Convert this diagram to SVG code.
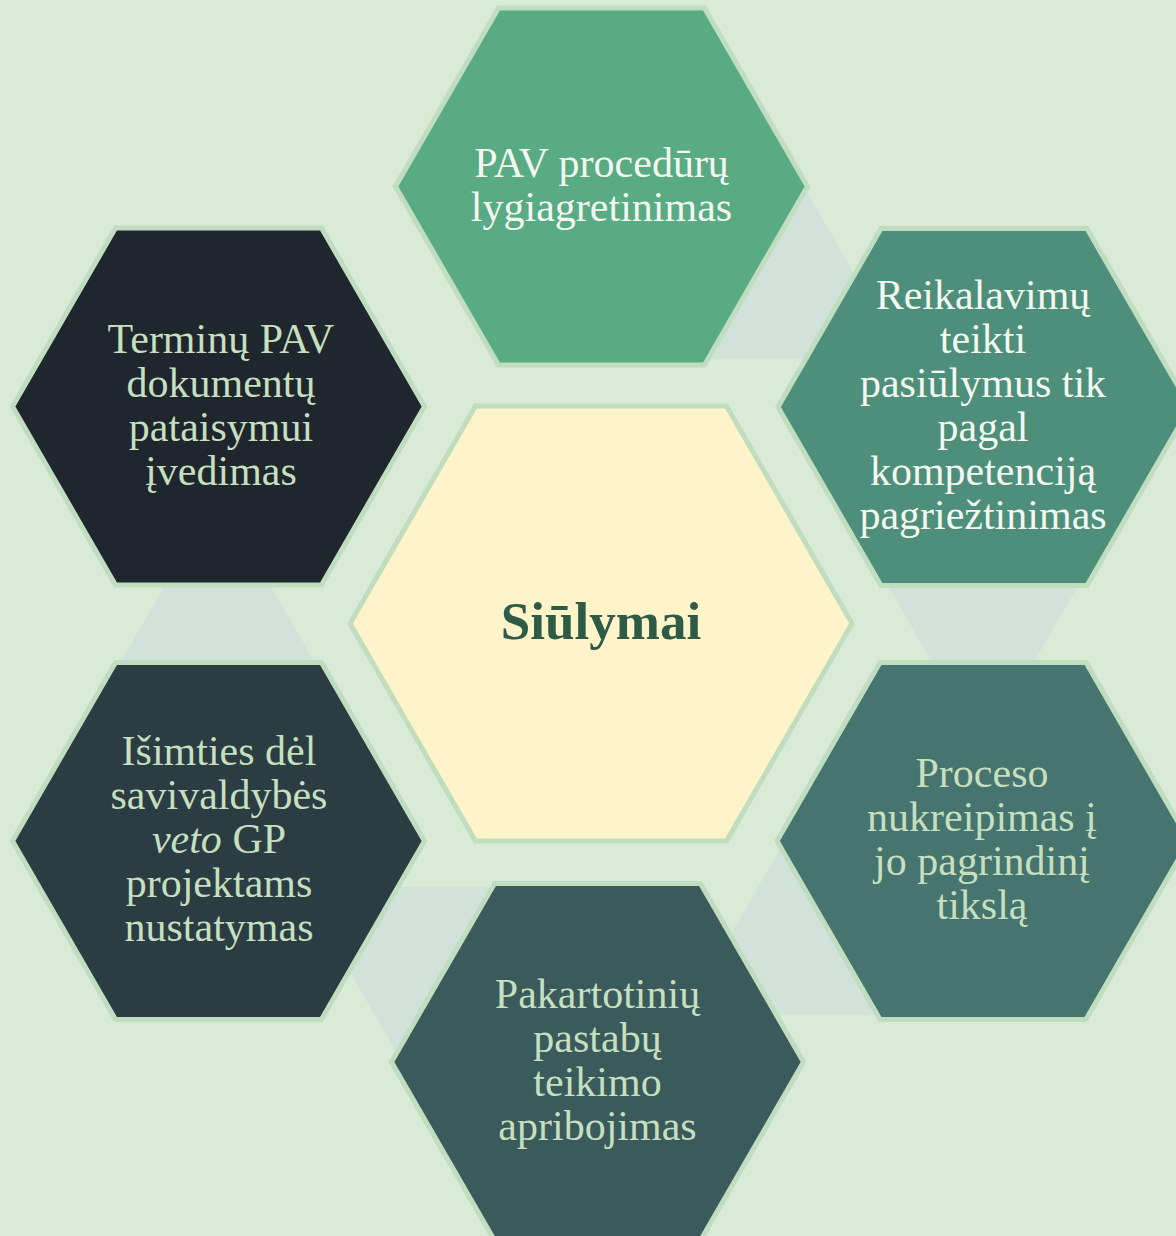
<svg xmlns="http://www.w3.org/2000/svg" width="1176" height="1236" viewBox="0 0 1176 1236">
  <defs>
    <style>
      .hex { stroke: #C0DDBF; stroke-width: 5; stroke-linejoin: miter; }
      .tri { fill: #D1E2DA; stroke: none; }
      .lbl { font-family: "Liberation Serif", "Times New Roman", serif; font-size: 42px; text-anchor: middle; }
      .light { fill: #F4F7EF; }
      .mint { fill: #C5DFBF; }
      .title { font-family: "Liberation Serif", "Times New Roman", serif; font-size: 53px; font-weight: bold; text-anchor: middle; fill: #2D5B45; }
    </style>
    <polygon id="hexOuter" points="-206,0 -103,-178.4 103,-178.4 206,0 103,178.4 -103,178.4"/>
  </defs>
  <rect x="0" y="0" width="1176" height="1236" fill="#D9EAD6"/>

  <g id="connectors">
    <polygon class="tri" points="806,190 903,359 708,359"/>
    <polygon class="tri" points="887,584 1079,584 983,751"/>
    <polygon class="tri" points="782,846 880,1015 684,1015"/>
    <polygon class="tri" points="301,887 496,887 398.5,1056"/>
    <polygon class="tri" points="217.5,494 315,663 120,663"/>
  </g>

  <g id="node-center">
    <polygon class="hex" fill="#FFF3C9" points="350,623.5 475.5,406.1 726.5,406.1 852,623.5 726.5,840.9 475.5,840.9"/>
    <text class="title" x="601" y="639">Siūlymai</text>
  </g>

  <g id="node-top">
    <use href="#hexOuter" class="hex" fill="#58AB82" x="601.5" y="186.5"/>
    <text class="lbl light" x="601.5" y="176.5">PAV procedūrų</text>
    <text class="lbl light" x="601.5" y="220.5">lygiagretinimas</text>
  </g>

  <g id="node-top-right">
    <use href="#hexOuter" class="hex" fill="#4D8F7A" x="984" y="407"/>
    <text class="lbl light" x="983" y="309">Reikalavimų</text>
    <text class="lbl light" x="983" y="353">teikti</text>
    <text class="lbl light" x="983" y="397">pasiūlymus tik</text>
    <text class="lbl light" x="983" y="441">pagal</text>
    <text class="lbl light" x="983" y="485">kompetenciją</text>
    <text class="lbl light" x="983" y="529">pagriežtinimas</text>
  </g>

  <g id="node-bottom-right">
    <use href="#hexOuter" class="hex" fill="#46746E" x="983" y="841"/>
    <text class="lbl mint" x="982" y="787">Proceso</text>
    <text class="lbl mint" x="982" y="831">nukreipimas į</text>
    <text class="lbl mint" x="982" y="875">jo pagrindinį</text>
    <text class="lbl mint" x="982" y="919">tikslą</text>
  </g>

  <g id="node-bottom">
    <use href="#hexOuter" class="hex" fill="#3A5A5C" x="597.5" y="1062"/>
    <text class="lbl mint" x="597.5" y="1008">Pakartotinių</text>
    <text class="lbl mint" x="597.5" y="1052">pastabų</text>
    <text class="lbl mint" x="597.5" y="1096">teikimo</text>
    <text class="lbl mint" x="597.5" y="1140">apribojimas</text>
  </g>

  <g id="node-bottom-left">
    <use href="#hexOuter" class="hex" fill="#2B3D43" x="218.5" y="841"/>
    <text class="lbl mint" x="219" y="765">Išimties dėl</text>
    <text class="lbl mint" x="219" y="809">savivaldybės</text>
    <text class="lbl mint" x="219" y="853"><tspan font-style="italic">veto</tspan> GP</text>
    <text class="lbl mint" x="219" y="897">projektams</text>
    <text class="lbl mint" x="219" y="941">nustatymas</text>
  </g>

  <g id="node-top-left">
    <use href="#hexOuter" class="hex" fill="#1F262D" x="218.5" y="406.5"/>
    <text class="lbl mint" x="221" y="353">Terminų PAV</text>
    <text class="lbl mint" x="221" y="397">dokumentų</text>
    <text class="lbl mint" x="221" y="441">pataisymui</text>
    <text class="lbl mint" x="221" y="485">įvedimas</text>
  </g>
</svg>
